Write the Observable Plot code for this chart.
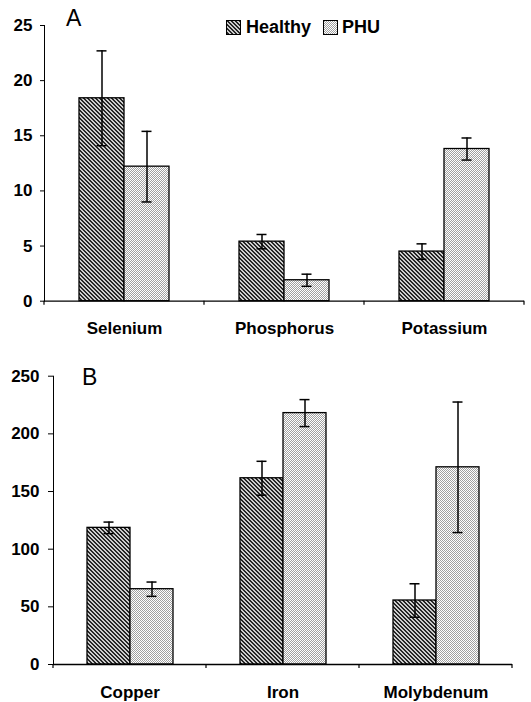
<!DOCTYPE html>
<html><head><meta charset="utf-8">
<script src="https://cdn.jsdelivr.net/npm/d3@7"></script>
<script src="https://cdn.jsdelivr.net/npm/@observablehq/plot@0.6"></script>
<style>
body{margin:0;background:#fff;}
#wrap{position:relative;width:531px;height:702px;font-family:"Liberation Sans",Arial,sans-serif;overflow:hidden;}
.panel{position:absolute;left:0;}
.lbl{position:absolute;font-size:23px;line-height:1;}
.leg{position:absolute;font-size:18px;font-weight:bold;line-height:1;}
.sw{position:absolute;}
</style></head>
<body>
<svg width="0" height="0" style="position:absolute">
<defs>
<pattern id="pHealthy" patternUnits="userSpaceOnUse" width="4" height="4">
<rect width="4" height="4" fill="#cdcdcd"/>
<rect x="0" y="0" width="2" height="1" fill="#262626"/>
<rect x="1" y="1" width="2" height="1" fill="#262626"/>
<rect x="2" y="2" width="2" height="1" fill="#262626"/>
<rect x="3" y="3" width="1" height="1" fill="#262626"/>
<rect x="0" y="3" width="1" height="1" fill="#262626"/>
</pattern>
<pattern id="pPHU" patternUnits="userSpaceOnUse" width="2" height="2">
<rect width="2" height="2" fill="#ffffff"/>
<rect x="0" y="0" width="1" height="1" fill="#a0a0a0"/>
<rect x="1" y="1" width="1" height="1" fill="#a0a0a0"/>
</pattern>
</defs>
</svg>
<div id="wrap">
  <div id="pa" class="panel" style="top:0"></div>
  <div id="pb" class="panel" style="top:340px"></div>
  <div class="lbl" style="left:66px;top:7px">A</div>
  <div class="lbl" style="left:82px;top:366px">B</div>
  <svg class="sw" style="left:226px;top:20px" width="15" height="15"><rect x="0.5" y="0.5" width="14" height="14" fill="url(#pHealthy)" stroke="black"/></svg>
  <div class="leg" style="left:246px;top:18px">Healthy</div>
  <svg class="sw" style="left:323px;top:20px" width="15" height="15"><rect x="0.5" y="0.5" width="14" height="14" fill="url(#pPHU)" stroke="black"/></svg>
  <div class="leg" style="left:342px;top:18px">PHU</div>
</div>
<script>
const groups = ["Healthy", "PHU"];

const catsA = ["Selenium", "Phosphorus", "Potassium"];
const healthyA = [18.4, 5.4, 4.5];
const healthyErrA = [4.3, 0.65, 0.7];
const phuA = [12.2, 1.9, 13.8];
const phuErrA = [3.2, 0.55, 1.0];
const ticksA = [0, 5, 10, 15, 20, 25];

const catsB = ["Copper", "Iron", "Molybdenum"];
const healthyB = [118.5, 161.5, 55.5];
const healthyErrB = [5, 14.7, 14.5];
const phuB = [65.3, 218, 171];
const phuErrB = [6.2, 11.7, 56.6];
const ticksB = [0, 50, 100, 150, 200, 250];

function panel(el, cats, hv, he, pv, pe, ticks, o) {
  const data = [];
  cats.forEach((c, i) => {
    data.push({cat: c, grp: "Healthy", v: hv[i], e: he[i]});
    data.push({cat: c, grp: "PHU", v: pv[i], e: pe[i]});
  });
  const plot = Plot.plot({
    width: 531, height: o.height,
    marginLeft: o.ml, marginRight: o.mr, marginTop: o.mt, marginBottom: o.mb,
    style: {fontFamily: "'Liberation Sans', Arial, sans-serif", fontSize: "17px", fontWeight: "bold", color: "black", background: "white", overflow: "visible"},
    facet: {data, x: "cat"},
    fx: {domain: cats, padding: 0, label: null, axis: "bottom", tickSize: 0, tickPadding: 21},
    x: {domain: groups, paddingInner: 0, paddingOuter: o.po, axis: null},
    y: {domain: [ticks[0], ticks[ticks.length - 1]], ticks, tickSize: o.ts, tickPadding: o.tp, label: null, line: true},
    color: {domain: groups, range: ["url(#pHealthy)", "url(#pPHU)"]},
    marks: [
      Plot.barY(data, {x: "grp", y: "v", fill: "grp", stroke: "black", strokeWidth: 1.3}),
      Plot.ruleX(data, {x: "grp", y1: d => d.v - d.e, y2: d => d.v + d.e, stroke: "black", strokeWidth: 1.5}),
      Plot.tickY(data, {x: "grp", y: d => d.v + d.e, stroke: "black", strokeWidth: 1.5, inset: o.cap}),
      Plot.tickY(data, {x: "grp", y: d => d.v - d.e, stroke: "black", strokeWidth: 1.5, inset: o.cap}),
      Plot.ruleY([0], {stroke: "black", strokeWidth: 1.3})
    ]
  });
  // category boundary ticks from the fx scale
  const fx = plot.scale("fx"), y = plot.scale("y");
  const y0 = y.apply(0);
  const bounds = cats.map(c => fx.apply(c));
  bounds.push(fx.apply(cats[cats.length - 1]) + fx.bandwidth);
  d3.select(plot).append("g").selectAll("line").data(bounds).join("line")
    .attr("x1", d => d).attr("x2", d => d).attr("y1", y0).attr("y2", y0 + 4)
    .attr("stroke", "black").attr("stroke-width", 1.2);
  document.getElementById(el).append(plot);
}

panel("pa", catsA, healthyA, healthyErrA, phuA, phuErrA, ticksA,
  {height: 340, ml: 43, mr: 7, mt: 25, mb: 39.3, po: 0.74, ts: 4, tp: 8, cap: 17.5});
panel("pb", catsB, healthyB, healthyErrB, phuB, phuErrB, ticksB,
  {height: 362, ml: 53, mr: 19, mt: 35.7, mb: 38, po: 0.76, ts: 5, tp: 9, cap: 16.5});
</script>
</body></html>
